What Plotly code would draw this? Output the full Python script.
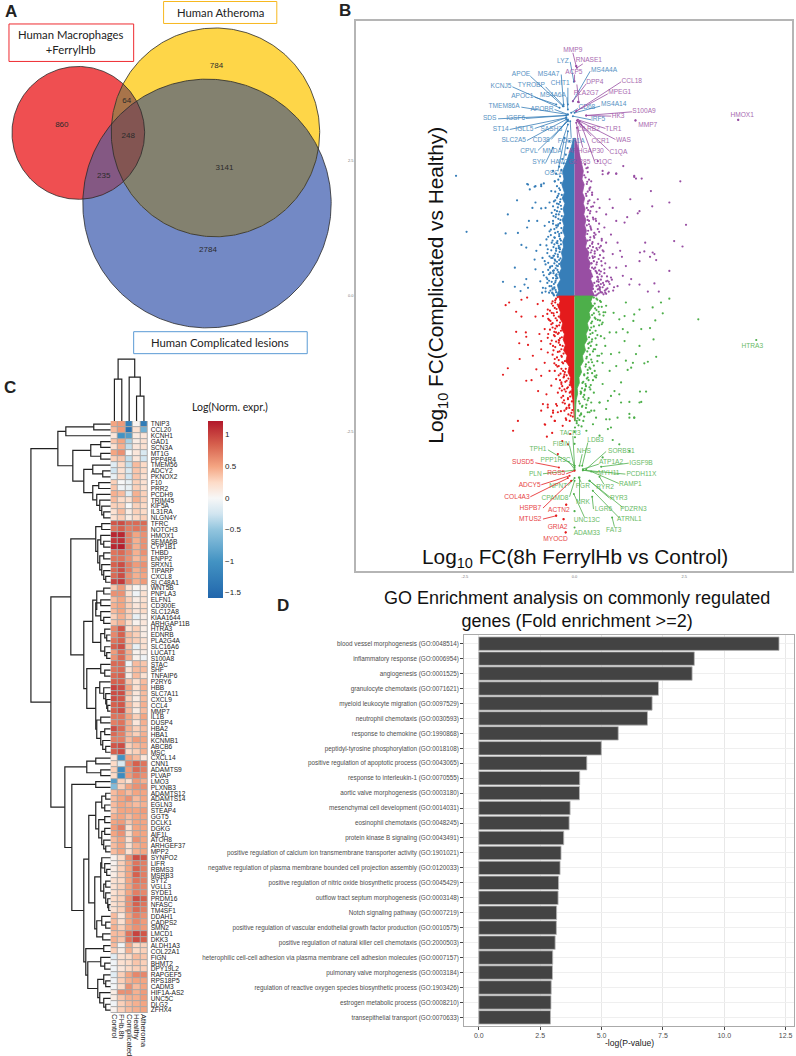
import numpy as np
import plotly.graph_objects as go

W, H = 796, 1056

# ---------- Panel A data ----------
venn_counts = [860, 784, 64, 248, 235, 3141, 2784]
venn_count_xy = [(61, 124), (216, 65), (126, 100), (127.5, 135), (103, 175), (224, 167), (207.5, 249)]
venn_circles = {"red": (77.5, 132, 66.5), "yellow": (215, 131.5, 104.5), "blue": (206.5, 202.7, 124.5)}

# ---------- Panel B data (log10 FC) ----------
blue_x = [-2.70,-2.46,-1.52,-1.31,-1.57,-1.29,-1.08,-0.89,-0.76,-0.70,-1.02,-0.96,-0.89,-0.76,-0.66,-0.49,-1.04,-0.85,-1.08,-1.21,-1.10,-0.87,-0.78,-0.68,-0.57,-0.49,-0.42,-0.53,-0.45,-0.38,-0.64,-0.73,-0.91,-1.36,-0.89,-1.63,-1.36,-1.23,-1.10,-1.14,-1.06,-0.72,-0.64,-0.57,-0.49,-0.53,-0.42,-0.61,-0.45,-0.38,-0.36,-0.57,-0.38,-0.43,-0.34,-1.06,-0.91,-0.76,-0.45,-0.49,-0.40,-0.46,-0.52,-0.60,-0.47,-0.55,-0.41,-0.50,-0.58,-0.44,-0.66,-0.39,-0.48,-0.54,-0.62,-0.56,-0.44,-0.70,-0.51,-0.43]
blue_y = [2.21,1.18,1.50,1.76,1.15,1.16,2.06,2.02,2.02,2.07,1.96,1.62,1.72,1.61,1.62,1.65,1.38,1.38,1.26,0.94,0.89,0.83,0.94,1.29,1.19,1.38,1.50,1.93,2.11,1.84,1.04,0.70,0.67,0.52,0.49,0.26,0.17,0.09,0.31,0.21,0.15,0.15,0.34,0.18,0.46,0.70,0.83,0.86,1.07,1.29,1.69,1.72,0.55,0.28,0.89,2.05,2.01,2.05,2.11,2.30,1.56,1.23,0.98,0.61,0.74,0.42,0.36,0.12,0.28,1.76,0.58,0.97,1.47,1.12,0.79,0.52,0.65,0.38,0.06,0.11]
blue_fringe_x = [-.33,-.37,-.42,-.30,-.35,-.25,-.28,-.2,-.16,-.12,-.4,-.33,-.44,-.36,-.32,-.4,-.31,-.45,-.34,-.29,-.37,-.33,-.42,-.3,-.38,-.35,-.46,-.31,-.41,-.36,-.48,-.33,-.44,-.38,-.5,-.35,-.46,-.41,-.55,-.39,-.48,-.43,-.58,-.42,-.52,-.47,-.62,-.46,-.55,-.5,-.66,-.48]
blue_fringe_y = [2.2,2.14,2.25,2.32,2.38,2.44,2.52,2.6,2.72,2.85,2.02,1.95,1.92,1.88,1.78,1.7,1.66,1.58,1.55,1.47,1.42,1.34,1.3,1.25,1.18,1.1,1.08,1.02,.98,.92,.9,.86,.78,.72,.7,.66,.6,.56,.54,.48,.42,.38,.4,.32,.26,.22,.24,.16,.1,.05,.08,.03]
blue_more_x = [-.31,-.35,-.29,-.4,-.33,-.47,-.38,-.3,-.52,-.36,-.43,-.32,-.58,-.37,-.49,-.41,-.3,-.54,-.35,-.44,-.6,-.33,-.39,-.5,-.31,-.46,-.36,-.64,-.42,-.34,-.53,-.38,-.48,-.32,-.57,-.4,-.45,-.35,-.68,-.43,-.51,-.37,-.47,-.6,-.41,-.55,-.39,-.72,-.49,-.44,-.62,-.46,-.53,-.78,-.42,-.58,-.5,-.66,-.47,-.74]
blue_more_y = [2.08,1.98,1.86,1.81,1.73,1.74,1.63,1.6,1.53,1.5,1.45,1.4,1.36,1.32,1.33,1.26,1.16,1.22,1.14,1.16,1.09,1.05,1.01,1.02,.95,.95,.88,.93,.87,.81,.84,.76,.74,.69,.73,.63,.67,.59,.64,.51,.55,.44,.47,.48,.4,.43,.33,.44,.33,.25,.31,.14,.18,.27,.07,.06,.14,.14,.01,.06]
purple_x = [2.41,1.74,1.36,1.40,0.64,0.95,0.78,0.38,0.40,0.53,0.80,1.27,1.48,1.44,1.77,2.16,2.54,1.20,1.14,0.87,0.57,0.72,0.95,0.49,0.68,0.83,0.98,2.27,2.46,1.61,1.49,1.59,1.78,1.82,1.72,1.86,1.48,1.04,1.08,0.87,0.72,0.57,0.95,1.17,0.80,1.10,1.29,1.25,1.82,2.16,1.67,1.92,1.48,0.83,0.72,0.98,0.57,0.61,0.45,0.53,0.42,1.39,3.73,1.11,1.36,1.53,0.95,0.76,0.64,0.53,0.30,0.08,0.04,0.34,0.48,0.44,0.52,0.60,0.38,0.66,0.50,0.56,0.36,0.75,0.46,0.62,0.42,0.68,0.54,0.58,0.40,0.70,0.78,0.64,0.88]
purple_y = [2.11,1.93,2.21,2.16,2.24,2.25,2.27,2.11,1.90,1.78,1.78,1.78,1.56,1.52,1.65,1.72,1.31,1.45,1.35,1.62,1.62,1.50,1.38,1.38,1.26,1.13,0.98,1.01,0.91,0.98,0.80,0.82,0.80,0.77,0.72,0.66,0.64,0.83,0.72,0.77,0.98,0.89,0.52,0.55,0.52,0.37,0.31,0.21,0.23,0.46,0.08,0.08,0.21,0.34,0.12,0.18,0.40,0.64,1.07,1.23,1.65,3.23,3.24,2.39,2.19,2.16,2.25,2.25,2.30,2.48,2.36,3.57,4.23,1.95,1.42,1.10,0.85,0.92,0.60,0.70,0.44,1.18,1.28,0.28,0.72,1.05,0.90,0.49,0.30,0.15,0.52,0.06,0.26,0.84,0.10]
purple_fringe_x = [.24,.27,.3,.25,.33,.28,.36,.3,.27,.34,.3,.38,.31,.35,.29,.42,.33,.28,.37,.31,.45,.36,.3,.4,.35,.5,.39,.46,.41,.55,.44,.5,.62,.47,.56,.51,.68,.52,.6,.55,.72,.54,.64,.58,.75,.55,.66,.6]
purple_fringe_y = [2.42,2.35,2.28,2.18,2.14,2.06,2.0,1.92,1.84,1.76,1.7,1.64,1.58,1.52,1.46,1.44,1.38,1.3,1.25,1.2,1.16,1.08,1.02,.96,.92,.88,.84,.78,.73,.68,.64,.58,.56,.52,.47,.42,.42,.35,.3,.26,.27,.2,.16,.11,.14,.05,.03,.07]
purple_more_x = [.22,.29,.34,.26,.4,.31,.45,.28,.36,.5,.3,.43,.33,.56,.38,.29,.48,.35,.62,.41,.31,.54,.37,.46,.66,.34,.42,.58,.39,.51,.7,.44,.36,.6,.48,.4,.74,.53,.45,.65,.5,.42,.8,.57,.47,.69,.52,.6,.85,.49,.63,.56,.72,.51,.9,.59,.67,.78,.53,.62]
purple_more_y = [2.22,2.1,1.98,1.88,1.86,1.74,1.72,1.62,1.56,1.55,1.4,1.41,1.32,1.33,1.22,1.14,1.13,1.03,1.02,.99,.88,.96,.8,.82,.82,.7,.7,.75,.6,.62,.6,.5,.46,.45,.46,.36,.36,.34,.24,.24,.18,.13,.22,.17,.08,.1,.03,.22,.3,.01,.06,.13,.04,.27,.16,.07,.2,.08,.12,.36]
red_x = [-1.57,-1.49,-1.21,-1.08,-1.33,-1.21,-0.89,-0.84,-0.72,-0.61,-0.49,-0.72,-1.33,-1.11,-1.10,-1.26,-1.06,-0.80,-0.76,-0.68,-0.61,-0.53,-0.42,-0.76,-0.61,-0.49,-0.95,-1.25,-1.52,-1.63,-1.10,-0.98,-0.83,-0.87,-0.76,-0.68,-0.57,-0.45,-0.42,-0.30,-0.53,-0.64,-0.38,-0.23,-0.72,-0.61,-0.42,-0.27,-0.15,-0.49,-0.38,-0.53,-1.29,-0.68,-0.45,-0.23,-0.11,-0.19,-0.30,-0.11,-0.23,-0.11,-0.13,-1.40,-0.76,-0.61,-0.40,-0.19,-0.45,-0.67,-0.51,-0.63,-0.27,-0.28,-0.15,-0.10,-0.38,-0.49,-0.19,-0.25,-0.20,-0.42,-0.44,-0.52,-0.58,-0.41,-0.47,-0.55,-0.36,-0.34,-0.46,-0.32,-0.28,-0.39]
red_y = [-0.17,-0.12,-0.07,-0.03,-0.29,-0.38,-0.38,-0.15,-0.09,-0.25,-0.18,-0.37,-0.66,-0.67,-0.75,-0.87,-0.90,-0.70,-0.83,-0.61,-0.77,-0.52,-0.67,-0.98,-1.04,-0.92,-1.10,-1.16,-1.33,-1.45,-1.56,-1.55,-1.75,-1.35,-1.47,-1.23,-1.38,-1.16,-1.53,-1.59,-1.65,-1.81,-1.78,-1.72,-1.99,-2.05,-1.99,-1.96,-1.90,-2.11,-2.14,-2.22,-2.30,-2.36,-2.30,-2.11,-2.30,-2.28,-1.87,-1.78,-1.44,-1.32,-2.02,-2.48,-2.11,-2.00,-2.02,-2.08,-2.30,-2.37,-2.52,-2.59,-2.39,-2.67,-2.73,-2.54,-2.91,-2.15,-3.84,-4.11,-4.35,-4.04,-0.12,-0.31,-0.44,-0.55,-0.72,-0.88,-0.81,-1.02,-1.24,-1.43,-1.66,-1.30]
red_fringe_x = [-.42,-.5,-.38,-.45,-.56,-.4,-.47,-.6,-.4,-.5,-.35,-.44,-.56,-.36,-.45,-.33,-.52,-.36,-.44,-.3,-.38,-.5,-.29,-.36,-.26,-.42,-.3,-.22,-.36,-.25,-.18,-.3,-.15,-.34,-.2,-.1,-.24,-.12,-.18,-.07,-.04,-.14]
red_fringe_y = [-.05,-.1,-.16,-.22,-.27,-.3,-.36,-.42,-.45,-.5,-.54,-.6,-.62,-.68,-.74,-.78,-.82,-.86,-.94,-.98,-1.03,-1.08,-1.12,-1.18,-1.24,-1.27,-1.34,-1.4,-1.46,-1.5,-1.56,-1.62,-1.68,-1.7,-1.76,-1.85,-1.92,-2.0,-2.06,-2.15,-2.22,-2.18]
red_more_x = [-.38,-.44,-.52,-.36,-.41,-.48,-.62,-.36,-.43,-.55,-.33,-.4,-.5,-.31,-.38,-.46,-.6,-.29,-.35,-.42,-.27,-.33,-.48,-.25,-.3,-.4,-.22,-.28,-.36,-.2,-.26,-.45,-.18,-.24,-.33,-.14,-.21,-.29,-.11,-.17,-.26,-.09,-.15,-.22,-.06,-.12,-.31,-.05,-.09,-.2]
red_more_y = [-.02,-.08,-.14,-.19,-.24,-.32,-.33,-.38,-.41,-.46,-.49,-.56,-.58,-.64,-.7,-.66,-.7,-.76,-.82,-.84,-.92,-.9,-1.0,-1.06,-1.1,-1.13,-1.2,-1.22,-1.29,-1.34,-1.38,-1.38,-1.46,-1.48,-1.55,-1.52,-1.58,-1.74,-1.64,-1.7,-1.84,-1.76,-1.88,-1.98,-1.94,-2.06,-2.12,-2.1,-2.2,-2.25]
green_x = [2.82,2.16,1.97,1.78,2.01,1.48,1.36,1.34,1.84,1.72,1.52,1.17,1.14,1.02,0.89,0.72,0.57,1.10,1.21,0.95,0.80,1.14,1.48,1.80,1.40,1.86,1.67,1.59,1.33,1.17,1.29,1.21,1.02,0.83,0.64,0.80,0.95,1.06,0.91,1.49,1.63,1.02,0.83,0.64,0.49,0.57,0.76,1.25,1.48,0.38,0.30,0.15,0.45,0.72,0.80,0.98,1.25,1.36,0.42,0.23,0.15,0.34,0.57,0.38,0.49,0.72,1.25,1.36,1.06,1.52,0.76,0.83,0.27,0.57,0.87,1.02,1.25,0.64,0.01,0.00,0.01,0.00,0.55,0.62,0.48,0.70,0.44,0.66,0.52,0.40,0.58,0.36,0.46,0.32,0.26,0.30,0.24,4.14,0.00]
green_y = [-0.43,-0.05,-0.12,-0.21,-0.32,-0.25,-0.34,-0.46,-0.45,-0.59,-0.61,-0.12,-0.37,-0.43,-0.31,-0.18,-0.34,-0.61,-0.67,-0.67,-0.67,-0.83,-0.92,-0.80,-1.07,-1.12,-1.21,-1.24,-1.23,-1.19,-1.32,-1.36,-1.04,-1.07,-1.23,-1.38,-1.29,-1.59,-1.75,-1.76,-1.76,-1.81,-1.84,-1.62,-1.50,-1.96,-1.93,-1.95,-1.96,-1.96,-2.14,-2.18,-2.11,-2.08,-2.27,-2.24,-2.24,-2.24,-2.36,-1.90,-1.78,-1.68,-1.96,-2.11,-2.24,-2.27,-2.17,-2.24,-1.96,-1.95,-2.45,-2.42,-2.48,-2.57,-2.65,-2.73,-2.85,-2.97,-2.42,-2.50,-2.60,-2.72,-0.20,-0.52,-0.78,-0.92,-0.98,-0.30,-1.10,-1.22,-0.45,-1.34,-1.48,-1.55,-1.66,-1.42,-1.72,-0.81,-3.96]
green_fringe_x = [.5,.58,.46,.62,.5,.44,.66,.48,.4,.56,.38,.48,.36,.6,.4,.34,.5,.32,.42,.62,.28,.38,.52,.26,.34,.46,.22,.3,.42,.18,.26,.36,.14,.22,.32,.1,.18,.08,.26,.12,.05,.2]
green_fringe_y = [-.05,-.09,-.14,-.2,-.26,-.32,-.36,-.42,-.47,-.54,-.58,-.64,-.7,-.74,-.8,-.86,-.9,-.96,-1.02,-1.06,-1.12,-1.17,-1.2,-1.26,-1.32,-1.38,-1.44,-1.5,-1.55,-1.6,-1.66,-1.72,-1.76,-1.82,-1.88,-1.94,-2.02,-2.1,-2.06,-2.2,-2.3,-2.3]
green_more_x = [.44,.52,.6,.42,.47,.55,.7,.4,.46,.53,.38,.44,.64,.35,.41,.52,.33,.39,.68,.31,.37,.47,.29,.35,.56,.27,.32,.44,.25,.3,.4,.22,.28,.5,.2,.25,.37,.17,.23,.44,.14,.2,.3,.12,.17,.27,.09,.15,.34,.07,.11,.22,.05,.09,.16]
green_more_y = [-.03,-.07,-.11,-.18,-.23,-.29,-.3,-.35,-.4,-.44,-.5,-.56,-.49,-.63,-.68,-.72,-.76,-.84,-.78,-.88,-.92,-.98,-1.02,-1.08,-1.1,-1.15,-1.22,-1.28,-1.3,-1.36,-1.42,-1.46,-1.52,-1.46,-1.58,-1.62,-1.64,-1.7,-1.74,-1.78,-1.8,-1.86,-1.92,-1.98,-2.04,-2.0,-2.12,-2.16,-2.14,-2.25,-2.28,-2.22,-2.34,-2.38,-2.4]
# dense core outlines: (half-width read at each fold change level)
blue_core_y = [2.9,2.75,2.5,2.3,2.15,2.05,1.9,1.8,1.7,1.6,1.5,1.4,1.3,1.2,1.1,1.0,0.9,0.8,0.7,0.6,0.5,0.4,0.3,0.2,0.1,0.0]
blue_core_x = [-0.02,-0.07,-0.17,-0.27,-0.24,-0.29,-0.23,-0.28,-0.22,-0.26,-0.23,-0.28,-0.24,-0.27,-0.22,-0.27,-0.25,-0.30,-0.27,-0.33,-0.30,-0.36,-0.32,-0.39,-0.36,-0.42]
purple_core_y = [2.9,2.75,2.5,2.3,2.15,2.05,1.9,1.8,1.7,1.6,1.5,1.4,1.3,1.2,1.1,1.0,0.9,0.8,0.7,0.6,0.5,0.4,0.3,0.2,0.1,0.0]
purple_core_x = [0.02,0.07,0.15,0.20,0.17,0.22,0.18,0.23,0.20,0.24,0.21,0.26,0.23,0.27,0.24,0.28,0.25,0.33,0.30,0.36,0.33,0.40,0.37,0.43,0.40,0.46]
red_core_y = [0.0,-0.1,-0.2,-0.3,-0.4,-0.5,-0.6,-0.7,-0.8,-0.9,-1.0,-1.1,-1.2,-1.3,-1.4,-1.5,-1.6,-1.7,-1.8,-1.9,-2.0,-2.3]
red_core_x = [-0.36,-0.33,-0.37,-0.32,-0.34,-0.27,-0.30,-0.23,-0.26,-0.21,-0.25,-0.17,-0.20,-0.12,-0.15,-0.09,-0.11,-0.06,-0.07,-0.04,-0.03,-0.01]
green_core_y = [0.0,-0.1,-0.2,-0.3,-0.4,-0.5,-0.6,-0.7,-0.8,-0.9,-1.0,-1.1,-1.2,-1.3,-1.4,-1.5,-1.6,-1.7,-1.8,-1.9,-2.0,-2.3]
green_core_x = [0.42,0.37,0.41,0.33,0.36,0.29,0.32,0.26,0.29,0.22,0.25,0.18,0.20,0.13,0.16,0.10,0.11,0.06,0.07,0.04,0.03,0.02]

# labelled genes: name, label centre, then line start and end (read on the upper / lower crop scale)
upper_blue = [("LYZ",370,120,392,122,403,182),("MS4A4A",494,148,452,150,400,240),("APOE",244,160,272,165,370,255),("MS4A7",327,158,365,160,372,250),
 ("KCNJ5",184,195,218,197,360,260),("TYROBP",275,193,318,197,372,255),("CHIT1",362,188,385,200,385,250),("APOC1",248,226,285,228,350,250),
 ("MS4A6A",340,224,382,228,385,265),("TMEM86A",193,256,245,258,385,280),("APOBR",307,265,345,265,385,280),("CD68",442,258,415,262,395,275),
 ("MS4A14",523,250,482,255,405,275),("SDS",150,293,175,293,380,283),("IGSF6",228,292,258,292,380,283),("IRF5",476,296,455,296,400,285),
 ("ST14",183,325,210,325,380,290),("IGLL5",254,325,285,322,380,290),("SASH3",335,325,360,325,385,295),("SLC2A5",222,358,262,358,380,295),
 ("CD38",305,358,335,355,385,298),("CPVL",268,390,295,388,385,300),("MNDA",338,392,360,385,385,310),("SYK",298,425,318,425,340,380),
 ("HAVCR2",372,425,372,415,385,330),("OSCAR",350,458,355,450,375,350),("FCGR1A",395,360,395,350,392,300)]
upper_purple = [("MMP9",400,86,400,95,410,135),("RNASE1",448,116,430,128,412,140),("ACP5",403,152,405,160,405,180),("DPP4",466,184,440,188,400,240),
 ("CCL18",577,180,545,182,410,270),("MPEG1",541,214,505,218,410,270),("PLA2G7",440,218,412,190,418,243),("S100A9",614,272,578,272,440,283),
 ("HK3",536,286,515,285,440,283),("MMP7",625,313,588,298,588,298),("HMOX1",909,282,897,296,897,296),("TLR1",522,325,498,322,415,296),
 ("LILRB2",448,325,425,320,412,298),("CCR1",483,360,455,345,415,300),("WAS",552,358,528,355,420,300),("C1QA",537,394,510,390,420,305),
 ("ARHGAP30",440,392,430,380,410,305),("C1QC",490,424,465,420,425,310),("GPR85",420,424,420,415,412,320)]
lower_green = [("TACR3",392,97,400,105,405,195),("FIBIN",365,131,390,135,405,200),("LDB3",468,119,445,125,428,195),("NHS",433,152,428,160,420,195),
 ("TPH1",295,147,325,147,405,195),("SORBS1",546,152,500,152,440,205),("ATP1A2",515,184,478,190,430,205),("IGSF9B",605,187,568,187,485,198),
 ("PPP1R3C",348,178,385,180,405,205),("PLN",287,221,310,219,405,208),("MYH11",508,217,475,215,430,208),("PCDH11X",606,220,558,220,430,208),
 ("RAMP1",573,252,538,248,455,212),("NPNT",356,257,385,255,405,232),("PGR",430,258,425,245,418,230),("RYR2",497,260,493,250,480,228),
 ("RYR3",538,292,510,292,450,240),("PDZRN3",582,325,550,320,450,240),("LGR6",492,325,462,325,458,288),("ATRNL1",570,357,540,352,460,270),
 ("FAT3",523,388,525,378,518,350),("NRK",430,305,420,300,420,230),("UNC13C",442,358,435,350,403,280),("ADAM33",442,398,405,380,405,380),
 ("CPAMD8",346,293,390,288,405,240)]
lower_red = [("SUSD5",250,186,287,186,358,200),("RGS5",350,219,380,219,405,210),("ADCY5",270,254,305,252,390,225),("COL4A3",232,290,272,288,385,232),
 ("HSPB7",272,323,310,322,395,240),("ACTN2",358,328,380,312,380,312),("MTUS2",272,356,310,355,350,345),("GRIA2",354,380,372,355,372,355),
 ("MYOCD",348,415,378,395,378,395)]
extra_label = [("HTRA3", 4.05, -0.92)]

# ---------- Panel C data ----------
samples = ["Control", "FHb.8h", "Complicated", "Healthy", "Atheroma"]
genes = ["TNIP3","CCL20","KCNH1","GAD1","SCN3A","MT1G","PPP4R4","TMEM56","ADCY2","PKNOX2","F10","PRR2","PCDH9","TRIM45","KIF5A","IL31RA","NLGN4Y",
 "TFRC","NOTCH3","HMOX1","SEMA6B","CYP1B1","THBD","ENPP2","SRXN1","TIPARP","CXCL8","SLC48A1","WNT5B","PNPLA3","ELFN1","CD300E","SLC12A8","KIAA1644","ARHGAP11B",
 "HTRA3","EDNRB","PLA2G4A","SLC16A6","LUCAT1","S100A8","STAC","SHF","TNFAIP6","P2RY6","HBB","SLC7A11","CXCL9","CCL4","MMP7","IL1B","DUSP4","HBA2","HBA1","KCNMB1","ABCB6","MSC",
 "CXCL14","CNN1","ADAMTS9","PLVAP","LMO3","PLXNB3","ADAMTS12","ADAMTS14","EGLN3","STEAP4","GGT5","DCLK1","DGKG","AIF1L","ATOH8","ARHGEF37","MPP2",
 "SYNPO2","LIFR","RBMS3","MSRB3","SYT2","VGLL3","SYDE1","PRDM16","NFASC","TM4SF1","DDAH1","CADPS2","SMN2","LMCD1","DKK3","ALDH1A3","COL22A1",
 "FIGN","BHMT2","DPY19L2","RAPGEF5","RPS18P5","CADM3","HIF1A-AS2","UNC5C","DLG2","ZFHX4"]
expr = [
[.5,.55,-1.25,.03,-1.3],[.4,.55,-1.4,.2,-.7],[.15,-1.0,-.9,.12,.15],[.35,.5,-.4,.1,.2],[.2,.45,-.3,.15,.2],[.5,.6,0,.15,-.2],[.3,.35,-.3,.15,-.25],
[-.15,.25,-.3,.4,.25],[-.25,.2,-.2,.35,.25],[-.1,.25,-.25,.35,.2],[.3,0,-.1,.3,.2],[.35,-.05,-.1,.3,.2],[.45,.4,-.15,.45,.3],[.4,.25,.2,.45,.3],[.3,.3,0,.3,.25],[.2,.4,.1,.3,.25],[.2,.3,.1,.25,.3],
[.9,.95,.8,.8,.8],[.75,.85,.7,.75,.7],[1.15,1.15,.7,.5,.6],[1.05,1.1,.7,.45,.6],[1.15,1.2,.7,.45,.6],[.75,.8,.65,.45,.6],[.75,.75,.6,.4,.5],[.85,.95,.7,.55,.6],[.8,.95,.7,.45,.55],[.8,.95,.6,.45,.5],[1.0,1.05,.65,.45,.55],
[.35,.55,.2,.03,.1],[.6,.6,.2,-.05,.2],[.4,.5,.3,.1,.2],[.45,.5,.3,.15,.25],[.4,.5,.3,.15,.25],[.3,.45,.3,-.1,.1],[.35,.45,.25,.05,.15],
[.65,.9,.2,.3,.1],[.65,.85,.4,.3,.1],[.75,.85,.35,.3,.2],[.85,.95,.35,-.1,.2],[.55,.8,.45,.05,.1],[.6,.8,.45,.05,-.05],
[.8,.8,-.03,.4,.35],[.75,.8,.2,.4,.4],[.8,.85,.1,.4,.2],[.85,.85,.35,.2,.4],[1.0,.95,.5,.2,.45],[.95,.95,.4,.15,.4],[.95,.9,.3,.1,.4],[.85,.9,.4,.2,.45],[.85,.95,.4,.1,.4],
[.75,.75,.5,.3,.5],[.7,.75,.45,.15,.45],[.95,.8,.45,.3,.4],[.8,.7,.4,.3,.45],[.7,.7,.4,.55,.5],[.9,.95,.3,.4,.45],[.85,.95,.25,.3,.45],
[.15,-1.0,.5,.4,.15],[.25,-.2,.65,.85,.75],[.3,-1.1,.55,.8,.7],[.25,-1.1,.55,.7,.6],[-.9,.3,.2,.55,.45],[-.6,.3,.5,.6,.6],
[.4,.5,.4,.5,.5],[.4,.5,.6,.4,.5],[.4,.5,.45,.4,.45],[.35,.5,.5,.5,.55],[.45,.5,.4,.5,.5],[.5,.55,.35,.5,.5],[.55,.7,.2,.5,.5],[.5,.6,.25,.5,.5],[.4,.5,.2,.6,.5],[.4,.5,.2,.45,.5],[.4,.5,.2,.45,.5],
[.05,.25,.6,.95,.9],[.05,.3,.5,.75,.7],[.1,.3,.5,.85,.7],[.1,.3,.5,.85,.7],[.2,.25,.5,.75,.7],[.2,.3,.5,.7,.65],[.2,.3,.5,.7,.65],[.25,.3,.6,.95,.85],[.2,.3,.6,.85,.75],[.2,.3,.6,.8,.7],
[.4,.15,.5,.7,.6],[.4,.2,.5,.65,.55],[.45,.3,.5,.6,.55],[.4,.4,.75,1.0,.9],[.45,.35,.75,.95,.85],[.4,-.03,.5,.25,.3],[.3,.1,.45,.25,.3],
[-.15,.2,.25,.4,.35],[-.05,.2,.25,.35,.3],[-.05,.15,.25,.3,.3],[-.15,.3,.5,.65,.65],[-.05,.3,.45,.5,.5],[-.03,.25,.6,.4,.5],[.1,.6,.6,.45,.55],[.1,.35,.45,.45,.55],[-.05,.3,.4,.45,.5],[.05,.3,.4,.45,.5]]

# row dendrogram: (branch position, child, child); leaves are gene names
row_tree = (30,
 (57,(65,(93,"TNIP3","CCL20"),"KCNH1"),
     (72,(90,(100,"GAD1","SCN3A"),(100,"MT1G","PPP4R4")),
         (83,(92,"TMEM56",(102,"ADCY2","PKNOX2")),
             (92,(98,"F10","PRR2"),(96,"PCDH9",(99,"TRIM45",(101,"KIF5A",(103,"IL31RA","NLGN4Y")))))))),
 (50,
  (70,(95,(101,"TFRC","NOTCH3"),(97,(100,"HMOX1",(103,"SEMA6B","CYP1B1")),(99,(103,"THBD","ENPP2"),(101,"SRXN1",(103,"TIPARP",(105,"CXCL8","SLC48A1")))))),
      (83,(92,(96,(103,"WNT5B","PNPLA3"),(95,(100,"ELFN1","CD300E"),(100,"SLC12A8",(103,"KIAA1644","ARHGAP11B")))),
              (100,(104,"HTRA3",(106,"EDNRB","PLA2G4A")),(104,"SLC16A6",(106,"LUCAT1","S100A8")))),
          (86,(100,"STAC",(104,"SHF","TNFAIP6")),
              (95,(99,"P2RY6",(103,"HBB",(105,"SLC7A11",(106,"CXCL9",(107,"CCL4","MMP7"))))),
                  (96,(100,"IL1B","DUSP4"),(100,(104,"HBA2","HBA1"),(102,"KCNMB1",(105,"ABCB6","MSC")))))))),
  (64,(86,(95,"CXCL14","CNN1"),(100,"ADAMTS9","PLVAP")),
      (71,(95,"LMO3","PLXNB3"),
          (83,(88,(95,(101,(105,"ADAMTS12","ADAMTS14"),(104,"EGLN3","STEAP4")),
                      (98,(104,"GGT5","DCLK1"),(101,(104,"DGKG","AIF1L"),(103,"ATOH8",(105,"ARHGEF37","MPP2"))))),
                  (94,(100,(101,"SYNPO2",(104,"LIFR",(106,"RBMS3","MSRB3"))),(103,(105,"SYT2","VGLL3"),(105,"SYDE1",(107,"PRDM16",(108,"NFASC","TM4SF1"))))),
                      (96,(101,"DDAH1",(105,"CADPS2","SMN2")),(102,"LMCD1","DKK3")))),
              (85,(103,"ALDH1A3","COL22A1"),
                  (87,(100,"FIGN",(104,"BHMT2","DPY19L2")),
                      (97,(103,"RAPGEF5",(105,"RPS18P5","CADM3")),(99,"HIF1A-AS2",(103,"UNC5C",(105,"DLG2","ZFHX4")))))))))))
# column dendrogram merge heights
col_tree = (62,(42,"Control","FHb.8h"),(44,"Complicated",(25,"Healthy","Atheroma")))
cbar_ticks = [1, .5, 0, -.5, -1, -1.5]

# ---------- Panel D data ----------
go_terms = ["blood vessel morphogenesis (GO:0048514)","inflammatory response (GO:0006954)","angiogenesis (GO:0001525)","granulocyte chemotaxis (GO:0071621)",
 "myeloid leukocyte migration (GO:0097529)","neutrophil chemotaxis (GO:0030593)","response to chemokine (GO:1990868)","peptidyl-tyrosine phosphorylation (GO:0018108)",
 "positive regulation of apoptotic process (GO:0043065)","response to interleukin-1 (GO:0070555)","aortic valve morphogenesis (GO:0003180)","mesenchymal cell development (GO:0014031)",
 "eosinophil chemotaxis (GO:0048245)","protein kinase B signaling (GO:0043491)","positive regulation of calcium ion transmembrane transporter activity (GO:1901021)",
 "negative regulation of plasma membrane bounded cell projection assembly (GO:0120033)","positive regulation of nitric oxide biosynthetic process (GO:0045429)",
 "outflow tract septum morphogenesis (GO:0003148)","Notch signaling pathway (GO:0007219)","positive regulation of vascular endothelial growth factor production (GO:0010575)",
 "positive regulation of natural killer cell chemotaxis (GO:2000503)","heterophilic cell-cell adhesion via plasma membrane cell adhesion molecules (GO:0007157)",
 "pulmonary valve morphogenesis (GO:0003184)","regulation of reactive oxygen species biosynthetic process (GO:1903426)","estrogen metabolic process (GO:0008210)","transepithelial transport (GO:0070633)"]
go_values = [12.23,8.78,8.69,7.32,7.06,6.87,5.68,4.99,4.40,4.11,4.10,3.72,3.68,3.46,3.35,3.31,3.25,3.23,3.17,3.16,3.11,3.01,3.00,2.95,2.94,2.92]

# ---------- layout helpers ----------
SANS = "Liberation Sans"
def xd(a, b): return [a / W, b / W]
def yd(a, b): return [1 - b / H, 1 - a / H]

fig = go.Figure()
hidden = dict(visible=False, fixedrange=True)
fig.update_layout(
    width=W, height=H, margin=dict(l=0, r=0, t=0, b=0), showlegend=False,
    paper_bgcolor="white", plot_bgcolor="rgba(0,0,0,0)",
    font=dict(family=SANS, color="#222"),
    xaxis=dict(domain=[0, 1], range=[0, W], **hidden),
    yaxis=dict(domain=[0, 1], range=[H, 0], **hidden),
    xaxis2=dict(domain=xd(110, 147), range=[-.5, 4.5], anchor="y2", tickmode="array", tickvals=list(range(5)), ticktext=samples,
                tickangle=90, tickfont=dict(size=7.6, color="#222", family=SANS), ticklen=0, showgrid=False, zeroline=False, showline=False),
    yaxis2=dict(domain=yd(420.5, 1013), range=[len(genes) - .5, -.5], anchor="x2", side="right", tickmode="array", tickvals=list(range(len(genes))), ticktext=genes,
                tickfont=dict(size=6.6, color="#222", family=SANS), ticklen=0, ticklabelstandoff=2, showgrid=False, zeroline=False, showline=False),
    xaxis3=dict(domain=xd(0, 110), range=[0, 110], anchor="y3", **hidden),
    yaxis3=dict(domain=yd(420.5, 1013), range=[len(genes) - .5, -.5], anchor="x3", **hidden),
    xaxis4=dict(domain=xd(110, 147), range=[-.5, 4.5], anchor="y4", **hidden),
    yaxis4=dict(domain=yd(357, 420.5), range=[0, 63.5], anchor="x4", **hidden),
    xaxis5=dict(domain=xd(356, 793), range=[-4.977, 4.955], anchor="y5", tickmode="array", tickvals=[-2.5, 0, 2.5], ticktext=["-2.5", "0.0", "2.5"],
                tickfont=dict(size=4, color="#777"), ticklen=1, tickcolor="#999", showgrid=False, zeroline=False, showline=True, mirror=True, linecolor="#b5b5b5", linewidth=1.5),
    yaxis5=dict(domain=yd(20, 570.5), range=[-5.06, 5.06], anchor="x5", tickmode="array", tickvals=[2.5, 0, -2.5], ticktext=["2.5", "0.0", "-2.5"],
                tickfont=dict(size=4, color="#777"), ticklen=1, tickcolor="#999", showgrid=False, zeroline=False, showline=True, mirror=True, linecolor="#b5b5b5", linewidth=1.5),
    xaxis6=dict(domain=xd(464, 795), range=[-.61, 12.84], anchor="y6", tickmode="array", tickvals=[0, 2.5, 5, 7.5, 10, 12.5], ticktext=["0.0", "2.5", "5.0", "7.5", "10.0", "12.5"],
                tickfont=dict(size=7, color="#4d4d4d"), ticks="outside", ticklen=2.5, tickcolor="#444", gridcolor="#e8e8e8", gridwidth=1, zeroline=False,
                showline=True, mirror=True, linecolor="#aaaaaa", linewidth=1.3),
    yaxis6=dict(domain=yd(634.3, 1026.3), range=[len(go_terms) - .4, -.6], anchor="x6", tickmode="array", tickvals=list(range(len(go_terms))), ticktext=go_terms,
                tickfont=dict(size=6.3, color="#4d4d4d"), ticks="outside", ticklen=2.5, tickcolor="#444", gridcolor="#efefef", gridwidth=1, zeroline=False,
                showline=True, mirror=True, linecolor="#aaaaaa", linewidth=1.3),
)

# ---------- Panel A ----------
def circ(c, n=360):
    t = np.linspace(0, 2 * np.pi, n, endpoint=False)
    return c[0] + c[2] * np.cos(t), c[1] + c[2] * np.sin(t)

def inter(*cs):
    xs, ys = [], []
    for i, c in enumerate(cs):
        px, py = circ(c, 1440)
        keep = np.ones(px.size, bool)
        for j, d in enumerate(cs):
            if j != i:
                keep &= (px - d[0])**2 + (py - d[1])**2 <= d[2]**2
        xs.append(px[keep]); ys.append(py[keep])
    xs, ys = np.concatenate(xs), np.concatenate(ys)
    cx, cy = xs.mean(), ys.mean()
    o = np.argsort(np.arctan2(ys - cy, xs - cx))
    return xs[o], ys[o]

R, Y, B = venn_circles["red"], venn_circles["yellow"], venn_circles["blue"]
def region(xy, color):
    fig.add_trace(go.Scatter(x=np.r_[xy[0], xy[0][0]], y=np.r_[xy[1], xy[1][0]], mode="lines", fill="toself",
                             fillcolor=color, line=dict(width=0), hoverinfo="skip", xaxis="x", yaxis="y"))
region(circ(B), "#7389c5")
region(circ(R), "#ef4f51")
region(circ(Y), "#fed648")
region(inter(R, Y), "#a8744a")
region(inter(R, B), "#845883")
region(inter(Y, B), "#83816f")
region(inter(R, Y, B), "#835552")
for c in (R, Y, B):
    px, py = circ(c)
    fig.add_trace(go.Scatter(x=np.r_[px, px[0]], y=np.r_[py, py[0]], mode="lines", line=dict(color="#2a2a2a", width=0.8), hoverinfo="skip", xaxis="x", yaxis="y"))
fig.add_trace(go.Scatter(x=[p[0] for p in venn_count_xy], y=[p[1] for p in venn_count_xy], text=[str(v) for v in venn_counts], mode="text",
                         textfont=dict(size=8, color="#2b2b2b", family=SANS), hoverinfo="skip", xaxis="x", yaxis="y"))
for (x0, y0, x1, y1, col) in [(8, 23, 133, 60.5, "#ee2b30"), (163, 0.5, 276.5, 22.5, "#f7b81f"), (133, 331, 307, 353, "#5b9bd5")]:
    fig.add_shape(type="rect", xref="x", yref="y", x0=x0, y0=y0, x1=x1, y1=y1, line=dict(color=col, width=1), fillcolor="white", layer="above")
for txt, x, y in [("Human Macrophages<br>+FerrylHb", 70, 41.5), ("Human Atheroma", 220, 11.5), ("Human Complicated lesions", 220, 342)]:
    fig.add_annotation(x=x, y=y, xref="x", yref="y", text=txt, showarrow=False, font=dict(size=11.3, family="Lato", color="#222"), align="center")
for txt, x, y in [("A", 10.5, 11), ("B", 345, 9.5), ("C", 9, 387), ("D", 283, 605)]:
    fig.add_annotation(x=x, y=y, xref="x", yref="y", text="<b>%s</b>" % txt, showarrow=False, font=dict(size=17, family=SANS, color="#222"))

# ---------- Panel B ----------
UP = dict(x=lambda zx: (zx - 405) / 132, y=lambda zy: (825 - zy) / 163.2)
LO = dict(x=lambda zx: (zx - 405) / 132, y=lambda zy: (-315 - zy) / 163.2)
COL = dict(blue="#377eb8", purple="#984ea3", red="#e41a1c", green="#4daf4a")
def core(xs, ys, col):
    xx = [0.0] + list(xs) + [0.0]
    yy = [ys[0]] + list(ys) + [ys[-1]]
    fig.add_trace(go.Scatter(x=xx, y=yy, mode="lines", fill="toself", fillcolor=col, line=dict(width=0.8, color=col), hoverinfo="skip", xaxis="x5", yaxis="y5"))
core(blue_core_x, blue_core_y, COL["blue"])
core(purple_core_x, purple_core_y, COL["purple"])
core(red_core_x, red_core_y, COL["red"])
core(green_core_x, green_core_y, COL["green"])
for xs, ys, k in [(blue_x + blue_fringe_x + blue_more_x, blue_y + blue_fringe_y + blue_more_y, "blue"),
                  (purple_x + purple_fringe_x + purple_more_x, purple_y + purple_fringe_y + purple_more_y, "purple"),
                  (red_x + red_fringe_x + red_more_x, red_y + red_fringe_y + red_more_y, "red"),
                  (green_x + green_fringe_x + green_more_x, green_y + green_fringe_y + green_more_y, "green")]:
    fig.add_trace(go.Scatter(x=xs, y=ys, mode="markers", marker=dict(size=2.2, color=COL[k], line=dict(width=0)), hoverinfo="skip", xaxis="x5", yaxis="y5"))
def gene_labels(rows, scale, k):
    lx, ly, ln_x, ln_y, ex, ey = [], [], [], [], [], []
    for name, cx, cy, sx, sy, tx, ty in rows:
        lx.append(scale["x"](cx)); ly.append(scale["y"](cy))
        ln_x += [scale["x"](sx), scale["x"](tx), None]
        ln_y += [scale["y"](sy), scale["y"](ty), None]
        ex.append(scale["x"](tx)); ey.append(scale["y"](ty))
    fig.add_trace(go.Scatter(x=ln_x, y=ln_y, mode="lines", line=dict(color=COL[k], width=0.8), hoverinfo="skip", xaxis="x5", yaxis="y5"))
    fig.add_trace(go.Scatter(x=ex, y=ey, mode="markers", marker=dict(size=2, color=COL[k]), hoverinfo="skip", xaxis="x5", yaxis="y5"))
    fig.add_trace(go.Scatter(x=lx, y=ly, text=[r[0] for r in rows], mode="text", textfont=dict(size=6.6, color=COL[k], family=SANS), opacity=0.85,
                             hoverinfo="skip", xaxis="x5", yaxis="y5"))
for rows, scale, k in [(upper_blue, UP, "blue"), (upper_purple, UP, "purple"), (lower_green, LO, "green"), (lower_red, LO, "red")]:
    gene_labels(rows, scale, k)
fig.add_trace(go.Scatter(x=[e[1] for e in extra_label], y=[e[2] for e in extra_label], text=[e[0] for e in extra_label], mode="text",
                         textfont=dict(size=6.6, color=COL["green"], family=SANS), opacity=0.85, hoverinfo="skip", xaxis="x5", yaxis="y5"))
fig.add_annotation(x=437, y=284, xref="x", yref="y", text="Log<sub>10</sub> FC(Complicated vs Healthy)", textangle=-90, showarrow=False, font=dict(size=20.8, family=SANS, color="#111"))
fig.add_annotation(x=575, y=558, xref="x", yref="y", text="Log<sub>10</sub> FC(8h FerrylHb vs Control)", showarrow=False, font=dict(size=20.8, family=SANS, color="#111"))

# ---------- Panel C ----------
G = {g: i for i, g in enumerate(genes)}
def walk_row(node, xs, ys):
    if isinstance(node, str):
        return 110.0, float(G[node])
    h, a, b = node
    xa, ya = walk_row(a, xs, ys)
    xb, yb = walk_row(b, xs, ys)
    xs += [xa, h, h, xb, None]
    ys += [ya, ya, yb, yb, None]
    return h, (ya + yb) / 2
rx, ry = [], []
walk_row(row_tree, rx, ry)
fig.add_trace(go.Scatter(x=rx, y=ry, mode="lines", line=dict(color="#222", width=1.2), hoverinfo="skip", xaxis="x3", yaxis="y3"))
S = {s: i for i, s in enumerate(samples)}
def walk_col(node, xs, ys):
    if isinstance(node, str):
        return float(S[node]), 0.0
    h, a, b = node
    xa, ya = walk_col(a, xs, ys)
    xb, yb = walk_col(b, xs, ys)
    xs += [xa, xa, xb, xb, None]
    ys += [ya, h, h, yb, None]
    return (xa + xb) / 2, h
cx_, cy_ = [], []
walk_col(col_tree, cx_, cy_)
fig.add_trace(go.Scatter(x=cx_, y=cy_, mode="lines", line=dict(color="#222", width=1.2), hoverinfo="skip", xaxis="x4", yaxis="y4"))

zmin, zmax = -1.58, 1.22
def zp(v): return (v - zmin) / (zmax - zmin)
cs = [[zp(-1.58), "#2166AC"], [zp(-1.0), "#4393C3"], [zp(-.5), "#92C5DE"], [zp(-.25), "#D1E5F0"], [zp(0), "#F7F7F7"],
      [zp(.25), "#FDDBC7"], [zp(.5), "#F4A582"], [zp(.85), "#D6604D"], [zp(1.22), "#B2182B"]]
fig.add_shape(type="rect", xref="x2", yref="y2", x0=-.5, x1=4.5, y0=-.5, y1=len(genes) - .5, fillcolor="#a8a8a8", line=dict(color="#a8a8a8", width=1), layer="below")
fig.add_trace(go.Heatmap(z=expr, x=list(range(5)), y=list(range(len(genes))), zmin=zmin, zmax=zmax, colorscale=cs, xgap=1, ygap=1, hoverinfo="skip",
                         xaxis="x2", yaxis="y2",
                         colorbar=dict(x=208 / W, xanchor="left", y=1 - 420 / H, yanchor="top", lenmode="pixels", len=177, thicknessmode="pixels", thickness=15,
                                       outlinewidth=0, ticks="", tickmode="array", tickvals=cbar_ticks, tickfont=dict(size=8, color="#222", family=SANS), xpad=0, ypad=0)))
fig.add_annotation(x=230, y=406, xref="x", yref="y", text="Log(Norm. expr.)", showarrow=False, font=dict(size=10.5, family="Lato", color="#222"))

# ---------- Panel D ----------
fig.add_trace(go.Bar(x=go_values, y=list(range(len(go_terms))), orientation="h", width=.9, marker=dict(color="#434343", line=dict(color="#b8b8b8", width=0.8)),
                     hoverinfo="skip", xaxis="x6", yaxis="y6"))
fig.add_annotation(x=577, y=609, xref="x", yref="y", text="GO Enrichment analysis on commonly regulated<br>genes (Fold enrichment >=2)", showarrow=False, align="center",
                   font=dict(size=18, family=SANS, color="#111"))
fig.add_annotation(x=629.6, y=1042.7, xref="x", yref="y", text="-log(P-value)", showarrow=False, font=dict(size=8.6, family=SANS, color="#222"))

fig.write_html("out.html", config={"displayModeBar": False}, post_script="document.body.style.margin='0';")
